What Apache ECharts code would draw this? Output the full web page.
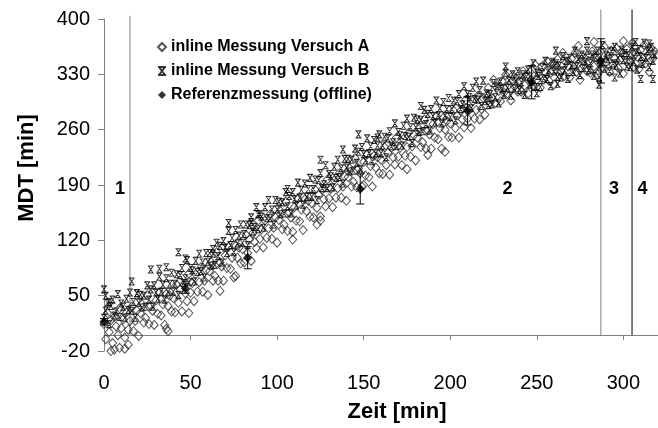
<!DOCTYPE html>
<html><head><meta charset="utf-8">
<script src="https://cdn.jsdelivr.net/npm/echarts@6/dist/echarts.min.js"></script>
<style>html,body{margin:0;padding:0;background:#fff}#c{width:658px;height:428px}</style>
</head><body><div id="c"></div>
<script>
const xTicks = [0, 50, 100, 150, 200, 250, 300];
const yTicks = [-20, 50, 120, 190, 260, 330, 400];
const seriesNames = ['inline Messung Versuch A', 'inline Messung Versuch B', 'Referenzmessung (offline)'];

const versuchA = [[0,14],[1,-5],[2,28],[3,4],[4,19],[5,-10],[6,23],[7,11],[8,0],[9,34],[10,9],[11,20],[12,-3],[13,29],[14,7],[15,18],[16,36],[17,5],[18,18],[19,31],[20,-1],[21,28],[22,39],[23,16],[24,22],[25,51],[26,14],[27,37],[28,31],[29,13],[30,44],[31,27],[32,54],[33,25],[34,39],[35,13],[36,52],[37,37],[38,50],[39,30],[40,47],[41,29],[42,64],[43,41],[44,58],[45,30],[46,64],[47,53],[48,43],[49,78],[50,54],[51,66],[52,43],[53,77],[54,55],[55,67],[56,86],[57,55],[58,69],[59,82],[60,51],[61,81],[62,92],[63,69],[64,75],[65,105],[66,69],[67,92],[68,87],[69,69],[70,101],[71,85],[72,112],[73,84],[74,98],[75,73],[76,113],[77,98],[78,111],[79,91],[80,109],[81,92],[82,127],[83,104],[84,121],[85,94],[86,129],[87,118],[88,110],[89,145],[90,122],[91,134],[92,111],[93,145],[94,123],[95,135],[96,153],[97,122],[98,136],[99,149],[100,117],[101,146],[102,157],[103,134],[104,140],[105,169],[106,132],[107,155],[108,149],[109,131],[110,162],[111,145],[112,173],[113,144],[114,159],[115,133],[116,172],[117,157],[118,170],[119,150],[120,167],[121,149],[122,184],[123,161],[124,178],[125,150],[126,184],[127,172],[128,163],[129,197],[130,173],[131,185],[132,162],[133,196],[134,174],[135,186],[136,205],[137,174],[138,188],[139,201],[140,170],[141,200],[142,211],[143,188],[144,194],[145,224],[146,187],[147,211],[148,205],[149,188],[150,219],[151,202],[152,229],[153,200],[154,214],[155,188],[156,227],[157,212],[158,225],[159,205],[160,222],[161,204],[162,238],[163,215],[164,231],[165,203],[166,237],[167,225],[168,216],[169,250],[170,226],[171,237],[172,215],[173,248],[174,227],[175,238],[176,256],[177,226],[178,239],[179,253],[180,221],[181,250],[182,261],[183,238],[184,244],[185,273],[186,236],[187,259],[188,254],[189,236],[190,267],[191,250],[192,277],[193,248],[194,262],[195,236],[196,275],[197,260],[198,271],[199,251],[200,268],[201,250],[202,284],[203,262],[204,278],[205,250],[206,284],[207,273],[208,263],[209,298],[210,274],[211,285],[212,262],[213,296],[214,274],[215,285],[216,303],[217,273],[218,286],[219,300],[220,279],[221,303],[222,313],[223,294],[224,300],[225,323],[226,294],[227,313],[228,309],[229,296],[230,321],[231,307],[232,329],[233,306],[234,317],[235,297],[236,328],[237,315],[238,325],[239,308],[240,322],[241,308],[242,334],[243,316],[244,328],[245,306],[246,333],[247,323],[248,315],[249,342],[250,323],[251,332],[252,313],[253,340],[254,323],[255,332],[256,346],[257,322],[258,332],[259,343],[260,317],[261,341],[262,349],[263,330],[264,334],[265,357],[266,328],[267,345],[268,340],[269,326],[270,350],[271,336],[272,357],[273,333],[274,344],[275,323],[276,353],[277,341],[278,350],[279,334],[280,347],[281,332],[282,359],[283,340],[284,352],[285,330],[286,356],[287,346],[288,338],[289,365],[290,345],[291,353],[292,333],[293,360],[294,342],[295,350],[296,363],[297,338],[298,348],[299,358],[300,331],[301,354],[302,362],[303,343],[304,347],[305,369],[306,339],[307,356],[308,352],[309,337],[310,361],[311,346],[312,367],[313,344],[314,354],[315,333],[316,363],[317,350],[318,359],
[4,-20],[6,-18],[9,-16],[12,-17],[14,-12],[36,8],[37,5],[49,28],[67,56],[76,75],[109,121],[123,140],[125,145],[150,190],[175,210],[187,228],[197,232],[274,366],[283,371],[300,372]];

const versuchB = [[0,22],[1,31],[2,41],[3,14],[4,37],[5,45],[6,25],[7,30],[8,52],[9,23],[10,40],[11,36],[12,22],[13,46],[14,32],[15,54],[16,31],[17,42],[18,22],[19,53],[20,41],[21,51],[22,35],[23,50],[24,36],[25,63],[26,45],[27,58],[28,36],[29,63],[30,54],[31,46],[32,74],[33,55],[34,64],[35,45],[36,72],[37,55],[38,65],[39,79],[40,55],[41,65],[42,77],[43,51],[44,76],[45,85],[46,66],[47,72],[48,95],[49,67],[50,85],[51,82],[52,68],[53,94],[54,80],[55,103],[56,81],[57,92],[58,73],[59,104],[60,93],[61,104],[62,88],[63,103],[64,89],[65,117],[66,100],[67,113],[68,92],[69,119],[70,111],[71,104],[72,132],[73,114],[74,123],[75,105],[76,133],[77,116],[78,126],[79,140],[80,117],[81,128],[82,140],[83,114],[84,139],[85,149],[86,131],[87,137],[88,162],[89,134],[90,153],[91,150],[92,136],[93,162],[94,148],[95,171],[96,148],[97,159],[98,140],[99,171],[100,159],[101,169],[102,153],[103,168],[104,154],[105,181],[106,163],[107,176],[108,154],[109,181],[110,172],[111,164],[112,193],[113,174],[114,184],[115,165],[116,192],[117,175],[118,185],[119,199],[120,175],[121,185],[122,197],[123,171],[124,196],[125,205],[126,186],[127,191],[128,215],[129,186],[130,204],[131,201],[132,187],[133,213],[134,199],[135,222],[136,200],[137,211],[138,192],[139,223],[140,212],[141,223],[142,207],[143,222],[144,208],[145,236],[146,218],[147,232],[148,210],[149,238],[150,229],[151,221],[152,249],[153,230],[154,239],[155,220],[156,247],[157,230],[158,240],[159,254],[160,230],[161,240],[162,251],[163,225],[164,249],[165,258],[166,239],[167,244],[168,268],[169,239],[170,257],[171,253],[172,240],[173,265],[174,252],[175,274],[176,251],[177,263],[178,243],[179,275],[180,263],[181,273],[182,257],[183,272],[184,258],[185,285],[186,267],[187,280],[188,259],[189,286],[190,277],[191,269],[192,297],[193,278],[194,287],[195,268],[196,295],[197,278],[198,286],[199,300],[200,276],[201,286],[202,297],[203,272],[204,296],[205,305],[206,286],[207,292],[208,315],[209,287],[210,305],[211,301],[212,287],[213,313],[214,299],[215,321],[216,298],[217,310],[218,290],[219,322],[220,296],[221,306],[222,291],[223,305],[224,292],[225,319],[226,301],[227,315],[228,293],[229,321],[230,312],[231,304],[232,332],[233,313],[234,322],[235,303],[236,330],[237,312],[238,321],[239,334],[240,310],[241,320],[242,330],[243,304],[244,327],[245,336],[246,317],[247,321],[248,344],[249,314],[250,332],[251,328],[252,314],[253,339],[254,325],[255,347],[256,324],[257,335],[258,315],[259,346],[260,334],[261,344],[262,327],[263,341],[264,326],[265,353],[266,335],[267,347],[268,324],[269,351],[270,341],[271,333],[272,360],[273,340],[274,349],[275,329],[276,355],[277,338],[278,346],[279,360],[280,335],[281,344],[282,355],[283,328],[284,351],[285,360],[286,340],[287,344],[288,367],[289,337],[290,354],[291,349],[292,334],[293,359],[294,344],[295,365],[296,341],[297,351],[298,331],[299,361],[300,348],[301,357],[302,340],[303,354],[304,339],[305,365],[306,346],[307,358],[308,336],[309,362],[310,352],[311,343],[312,370],[313,351],[314,359],[315,339],[316,365],[317,347],[318,355],
[0,58],[1,50],[3,42],[16,68],[19,53],[27,83],[32,84],[36,86],[43,105],[47,97],[63,109],[72,142],[85,143],[89,153],[106,185],[125,222],[138,235],[147,254],[158,250],[183,290],[232,340],[261,360],[279,372],[286,326],[286,317],[295,326],[307,371],[310,324],[315,369],[317,324],[250,306],[262,318]];

const refX = [0, 47, 83, 148, 210, 247, 287];
const refY = [17, 59, 98, 185, 284, 320, 347];
const refErr = [4, 6, 14, 19, 18, 21, 28];

const phaseLineX = [15, 287, 305];
const phaseLineTop = [404, 412, 412];
const phaseLineColor = ['#808080', '#808080', '#000000'];
const phaseLabels = ['1', '2', '3', '4'];
const phaseLabelX = [9.3, 233, 294.6, 311];
const phaseLabelY = [185, 185, 185, 185];

const FONT = '"Liberation Sans", Arial, sans-serif';
const refData = refX.map((x, i) => [x, refY[i]]);
const errData = refX.map((x, i) => [x, refY[i], refErr[i]]);

const phaseLineSeries = phaseLineX.map((x, i) => ({
  type: 'line', silent: true, clip: false, symbol: 'none', z: 1,
  data: [[x, 0], [x, phaseLineTop[i]]],
  lineStyle: { color: phaseLineColor[i], width: 1 }
}));

const chart = echarts.init(document.getElementById('c'), null, { renderer: 'canvas' });
chart.setOption({
  animation: false,
  backgroundColor: '#fff',
  grid: { left: 104, top: 19, right: 0, bottom: 61 },
  legend: {
    orient: 'vertical', left: 152, top: 34, itemGap: 8,
    itemWidth: 8, itemHeight: 8,
    data: seriesNames,
    textStyle: { fontFamily: FONT, fontWeight: 'bold', fontSize: 16, color: '#000' }
  },
  xAxis: {
    type: 'value', min: 0, max: 320,
    name: 'Zeit [min]', nameLocation: 'middle', nameGap: 50,
    nameTextStyle: { fontFamily: FONT, fontWeight: 'bold', fontSize: 22, color: '#000', padding: [0, 0, 0, 32] },
    axisLine: { onZero: true, lineStyle: { color: '#808080', width: 1 } },
    axisTick: { show: true, length: 5, customValues: xTicks, lineStyle: { color: '#808080' } },
    axisLabel: { customValues: xTicks, margin: 22, fontFamily: FONT, fontSize: 20, color: '#000' },
    splitLine: { show: false }
  },
  yAxis: {
    type: 'value', min: -20, max: 400,
    name: 'MDT [min]', nameLocation: 'middle', nameGap: 66, nameRotate: 90,
    nameTextStyle: { fontFamily: FONT, fontWeight: 'bold', fontSize: 22, color: '#000', padding: [0, 0, 0, 34] },
    axisLine: { show: true, onZero: false, lineStyle: { color: '#808080', width: 1 } },
    axisTick: { show: true, length: 6, customValues: yTicks, lineStyle: { color: '#808080' } },
    axisLabel: { customValues: yTicks, margin: 14, fontFamily: FONT, fontSize: 20, color: '#000' },
    splitLine: { show: false }
  },
  series: [
    ...phaseLineSeries,
    {
      name: seriesNames[0], type: 'scatter', symbol: 'diamond', symbolSize: [8, 9], z: 3,
      data: versuchA,
      itemStyle: { color: 'rgba(255,255,255,0)', borderColor: '#2a2a2a', borderWidth: 1 }
    },
    {
      name: seriesNames[1], type: 'scatter', z: 4,
      symbol: 'path://M0,0L8,0M0,8L8,8M1,0L7,8M7,0L1,8', symbolSize: [6, 7],
      data: versuchB,
      itemStyle: { color: 'rgba(255,255,255,0)', borderColor: '#000', borderWidth: 1 }
    },
    {
      type: 'custom', z: 5, silent: true,
      data: errData,
      renderItem: function (params, api) {
        const x = api.value(0), y = api.value(1), e = api.value(2);
        const lo = api.coord([x, y - e]);
        const hi = api.coord([x, y + e]);
        const hw = 4;
        return {
          type: 'group',
          children: [
            { type: 'line', shape: { x1: lo[0], y1: lo[1], x2: hi[0], y2: hi[1] }, style: { stroke: '#000', lineWidth: 1 } },
            { type: 'line', shape: { x1: lo[0] - hw, y1: lo[1], x2: lo[0] + hw, y2: lo[1] }, style: { stroke: '#000', lineWidth: 1 } },
            { type: 'line', shape: { x1: hi[0] - hw, y1: hi[1], x2: hi[0] + hw, y2: hi[1] }, style: { stroke: '#000', lineWidth: 1 } }
          ]
        };
      }
    },
    {
      name: seriesNames[2], type: 'scatter', symbol: 'diamond', symbolSize: [9, 10], z: 6,
      data: refData,
      itemStyle: { color: '#000' }
    },
    {
      type: 'scatter', silent: true, symbol: 'circle', symbolSize: 1, z: 7,
      itemStyle: { color: '#fff', opacity: 1 },
      data: phaseLabelX.map((x, i) => ({ value: [x, phaseLabelY[i]], name: phaseLabels[i] })),
      label: { show: true, position: 'inside', formatter: '{b}', fontFamily: FONT, fontWeight: 'bold', fontSize: 18, color: '#000', opacity: 1, textBorderWidth: 0 }
    }
  ]
});
</script></body></html>
